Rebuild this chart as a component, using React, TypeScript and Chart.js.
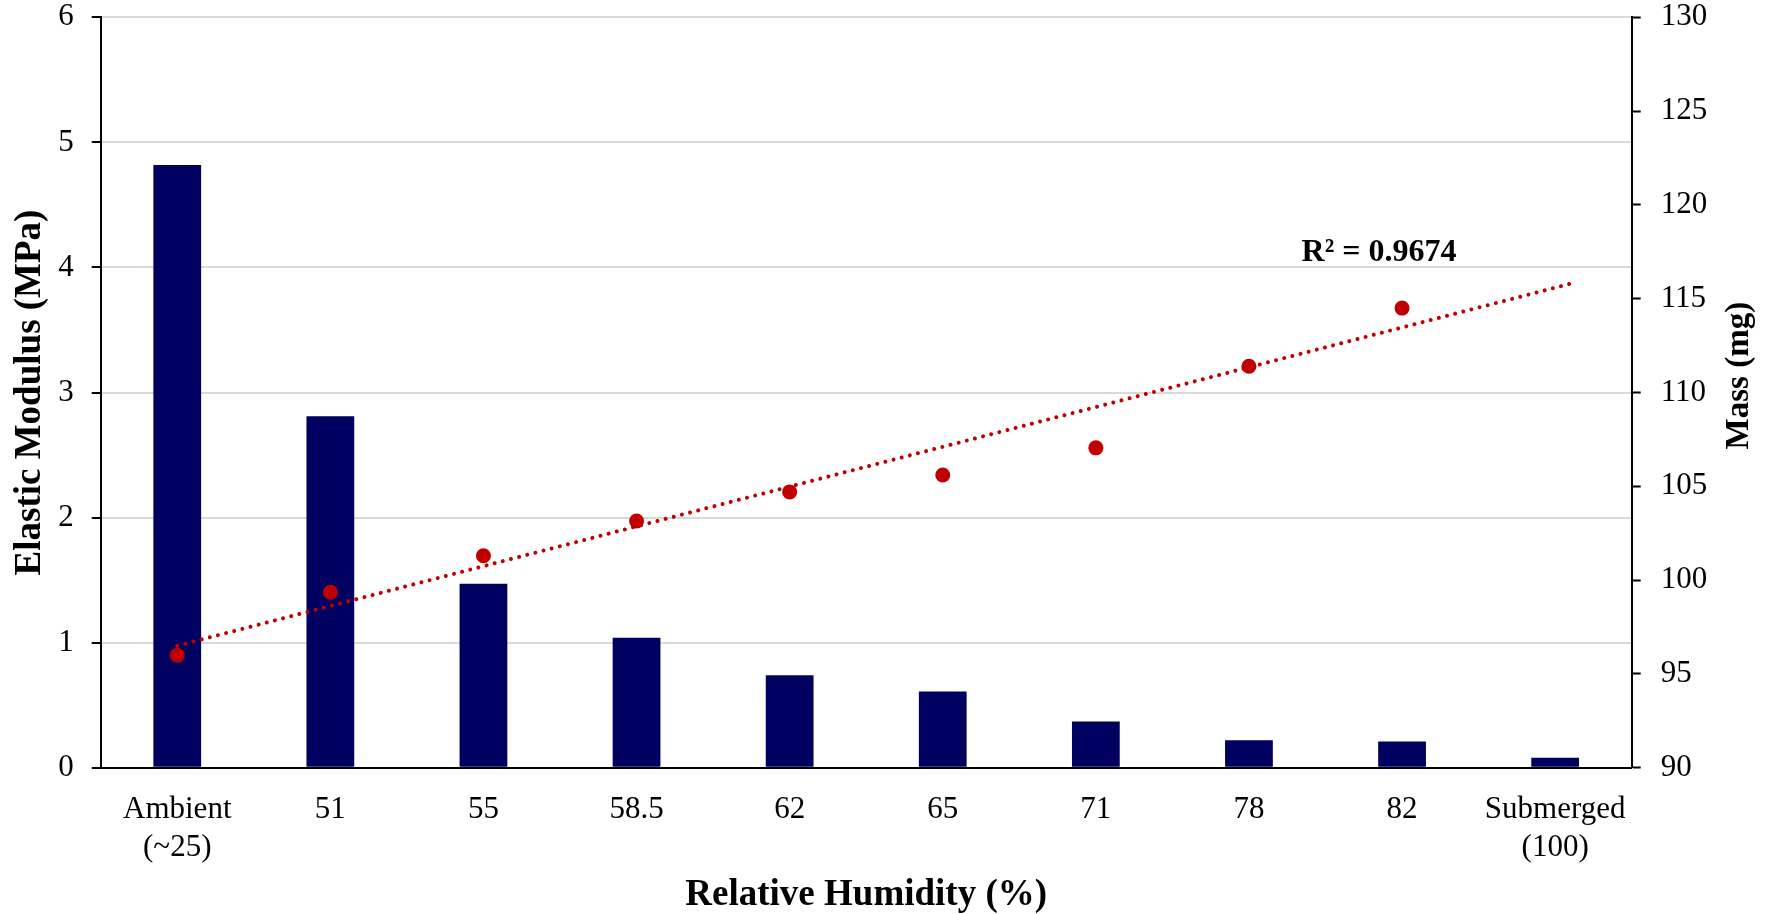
import React, { useEffect, useRef } from "react";
import { Chart, registerables } from "chart.js";

Chart.register(...registerables);

// ---- Data ----
const categories: (string | string[])[] = [
  ["Ambient", "(~25)"],
  "51",
  "55",
  "58.5",
  "62",
  "65",
  "71",
  "78",
  "82",
  ["Submerged", "(100)"],
];
const elasticModulus = [4.82, 2.81, 1.47, 1.04, 0.74, 0.61, 0.37, 0.22, 0.21, 0.08];
const massValues: (number | null)[] = [96.0, 99.35, 101.3, 103.15, 104.7, 105.6, 107.05, 111.4, 114.5, null];
// Linear trendline of the mass series: start / end positions (category index) and values
const trendX = [0, 9.1];
const trendY = [96.5, 115.8];
const rSquaredLabel = "R² = 0.9674";
const xTitle = "Relative Humidity (%)";
const leftTitle = "Elastic Modulus (MPa)";
const rightTitle = "Mass (mg)";

const SERIF = "'Liberation Serif', 'Times New Roman', serif";
const BAR_COLOR = "#000060";
const RED = "#C00000";

const overlayPlugin = {
  id: "overlayText",
  afterDraw(chart: any) {
    const { ctx, scales } = chart;
    ctx.save();
    ctx.fillStyle = "#000";
    // R² annotation
    ctx.font = `bold 32px ${SERIF}`;
    ctx.textAlign = "center";
    ctx.textBaseline = "alphabetic";
    ctx.fillText(rSquaredLabel, scales.x.getPixelForValue(7.85), scales.y1.getPixelForValue(117.0));
    // Right axis title, reading bottom-to-top
    ctx.font = `bold 33px ${SERIF}`;
    ctx.textBaseline = "middle";
    ctx.translate(scales.y1.right - 32, scales.y1.getPixelForValue(110.9));
    ctx.rotate(-Math.PI / 2);
    ctx.fillText(rightTitle, 0, 0);
    ctx.restore();
  },
};

export default function App() {
  const canvasRef = useRef<HTMLCanvasElement | null>(null);

  useEffect(() => {
    if (!canvasRef.current) return;
    const chart = new Chart(canvasRef.current, {
      type: "bar",
      data: {
        labels: categories as any,
        datasets: [
          {
            type: "line",
            label: "Trend",
            data: trendX.map((x, i) => ({ x, y: trendY[i] })),
            xAxisID: "xl",
            yAxisID: "y1",
            borderColor: RED,
            borderWidth: 4,
            borderDash: [0.01, 8.4],
            borderCapStyle: "round",
            pointRadius: 0,
            pointHoverRadius: 0,
            fill: false,
            order: 1,
          } as any,
          {
            type: "line",
            label: "Mass",
            data: massValues,
            xAxisID: "x",
            yAxisID: "y1",
            showLine: false,
            pointRadius: 7.5,
            pointHoverRadius: 7.5,
            pointBackgroundColor: RED,
            pointBorderColor: RED,
            pointBorderWidth: 0,
            order: 0,
          } as any,
          {
            type: "bar",
            label: "Elastic Modulus",
            data: elasticModulus,
            xAxisID: "x",
            yAxisID: "y",
            backgroundColor: BAR_COLOR,
            borderWidth: 0,
            grouped: false,
            barPercentage: 0.312,
            categoryPercentage: 1,
            order: 2,
          } as any,
        ],
      },
      options: {
        animation: false,
        responsive: true,
        maintainAspectRatio: false,
        devicePixelRatio: 1,
        layout: { padding: { top: 0, left: 0, right: 0, bottom: 0 } },
        plugins: {
          legend: { display: false },
          tooltip: { enabled: false },
        },
        scales: {
          x: {
            type: "category",
            position: "bottom",
            offset: true,
            grid: { display: false, drawTicks: false },
            border: { display: true, color: "#000", width: 2 },
            ticks: {
              color: "#000",
              font: { family: SERIF, size: 31, lineHeight: 1.2 },
              padding: 24,
              maxRotation: 0,
              autoSkip: false,
            },
            title: {
              display: true,
              text: xTitle,
              color: "#000",
              font: { family: SERIF, size: 37, weight: "bold", lineHeight: 1.0 },
              padding: { top: 0, bottom: 0 },
            },
            afterFit: (s: any) => {
              s.height = 146.3;
            },
          },
          xl: {
            type: "linear",
            display: false,
            offset: false,
            grace: 0,
            min: -0.5,
            max: 9.5,
          },
          y: {
            type: "linear",
            position: "left",
            min: 0,
            max: 6,
            ticks: {
              stepSize: 1,
              color: "#000",
              font: { family: SERIF, size: 31, lineHeight: 1.116 },
              padding: 18,
            },
            grid: {
              color: "#d9d9d9",
              lineWidth: 2,
              drawTicks: true,
              tickLength: 9,
              tickColor: "#000",
              tickWidth: 2,
            },
            border: { display: true, color: "#000", width: 2 },
            title: {
              display: true,
              text: leftTitle,
              color: "#000",
              font: { family: SERIF, size: 37, weight: "bold", lineHeight: 1.2 },
              padding: { top: 8, bottom: 0 },
            },
            afterFit: (s: any) => {
              s.width = 100.7;
              s.paddingTop = 17.3;
              s.paddingBottom = 0;
            },
          },
          y1: {
            type: "linear",
            position: "right",
            min: 90,
            max: 130,
            ticks: {
              stepSize: 5,
              color: "#000",
              font: { family: SERIF, size: 31, lineHeight: 1.116 },
              padding: 20,
            },
            grid: {
              display: true,
              drawOnChartArea: false,
              drawTicks: true,
              tickLength: 9,
              tickColor: "#000",
              tickWidth: 2,
            },
            border: { display: true, color: "#000", width: 2 },
            afterFit: (s: any) => {
              s.width = 139.3;
              s.paddingTop = 17.3;
              s.paddingBottom = 0;
            },
          },
        },
      } as any,
      plugins: [overlayPlugin],
    });
    return () => chart.destroy();
  }, []);

  return (
    <div style={{ position: "absolute", left: 0, top: 0, width: 1771, height: 914, background: "#fff" }}>
      <canvas ref={canvasRef} />
    </div>
  );
}
